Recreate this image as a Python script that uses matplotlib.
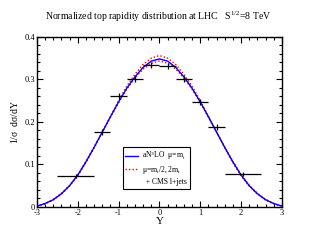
import matplotlib
matplotlib.use("Agg")
import matplotlib.pyplot as plt
from matplotlib.ticker import MultipleLocator, FormatStrFormatter
from matplotlib.lines import Line2D

plt.rcParams['font.family'] = ['Liberation Serif', 'DejaVu Serif']
plt.rcParams['mathtext.fontset'] = 'custom'
plt.rcParams['mathtext.rm'] = 'Liberation Serif'
plt.rcParams['mathtext.it'] = 'Liberation Serif'

# theory curve (aN3LO, mu = m_t)
y_grid = [-3.0, -2.8, -2.6, -2.4, -2.2, -2.0, -1.8, -1.6, -1.4, -1.2, -1.0, -0.8, -0.6, -0.4, -0.2,
          0.0, 0.2, 0.4, 0.6, 0.8, 1.0, 1.2, 1.4, 1.6, 1.8, 2.0, 2.2, 2.4, 2.6, 2.8, 3.0]
central = [0.002, 0.008, 0.017, 0.031, 0.050, 0.075, 0.106, 0.140, 0.176, 0.212, 0.247, 0.279, 0.306,
           0.328, 0.343, 0.348, 0.343, 0.328, 0.306, 0.279, 0.247, 0.212, 0.176, 0.140, 0.106, 0.075,
           0.050, 0.031, 0.017, 0.008, 0.002]
scale_hi = [0.002, 0.007, 0.016, 0.030, 0.049, 0.073, 0.104, 0.139, 0.176, 0.213, 0.250, 0.284, 0.312,
            0.335, 0.350, 0.356, 0.350, 0.335, 0.312, 0.284, 0.250, 0.213, 0.176, 0.139, 0.104, 0.073,
            0.049, 0.030, 0.016, 0.007, 0.002]
scale_lo = [0.002, 0.008, 0.018, 0.032, 0.051, 0.076, 0.107, 0.141, 0.176, 0.211, 0.245, 0.277, 0.303,
            0.324, 0.338, 0.343, 0.338, 0.324, 0.303, 0.277, 0.245, 0.211, 0.176, 0.141, 0.107, 0.076,
            0.051, 0.032, 0.018, 0.008, 0.002]

# CMS l+jets data
bin_lo = [-2.5, -1.6, -1.2, -0.8, -0.4, 0.0, 0.4, 0.8, 1.2, 1.6]
bin_hi = [-1.6, -1.2, -0.8, -0.4, 0.0, 0.4, 0.8, 1.2, 1.6, 2.5]
cms_val = [0.073, 0.176, 0.261, 0.301, 0.334, 0.332, 0.301, 0.247, 0.188, 0.077]
cms_err = [0.005, 0.007, 0.007, 0.007, 0.007, 0.007, 0.007, 0.007, 0.007, 0.005]

x_ticks = [-3, -2, -1, 0, 1, 2, 3]
y_ticks = [0, 0.1, 0.2, 0.3, 0.4]

fig = plt.figure(figsize=(3.16, 2.44), dpi=100)
ax = fig.add_axes([0.117, 0.152, 0.775, 0.697])

ax.plot(y_grid, central, color='blue', lw=1.0, zorder=3)
ax.plot(y_grid, scale_hi, color='red', lw=1.0, ls=(0, (1, 1.5)), zorder=2)
ax.plot(y_grid, scale_lo, color='red', lw=1.0, ls=(0, (1, 1.5)), zorder=2)

xc = [(a + b) / 2 for a, b in zip(bin_lo, bin_hi)]
xe = [(b - a) / 2 for a, b in zip(bin_lo, bin_hi)]
ax.errorbar(xc, cms_val, xerr=xe, yerr=cms_err, fmt='none', ecolor='black', elinewidth=0.9,
            capsize=0, zorder=4)

ax.set_xlim(-3, 3)
ax.set_ylim(0, 0.4)
ax.set_xticks(x_ticks)
ax.set_yticks(y_ticks)
ax.set_xticklabels([str(v) for v in x_ticks])
ax.set_yticklabels(['0', '0.1', '0.2', '0.3', '0.4'])
ax.xaxis.set_minor_locator(MultipleLocator(0.2))
ax.yaxis.set_minor_locator(MultipleLocator(0.02))
ax.tick_params(which='both', direction='in', top=True, right=True, labelsize=6, pad=1.5, width=0.8)
ax.tick_params(which='major', length=4.5)
ax.tick_params(which='minor', length=2.5)
for s in ax.spines.values():
    s.set_linewidth(1.0)

ax.set_xlabel('Y', fontsize=8, labelpad=0)
ax.set_ylabel(r'1/$\sigma$  d$\sigma$/dY', fontsize=7, labelpad=3)
fig.text(0.5, 0.93, r'Normalized top rapidity distribution at LHC   S$^{1/2}$=8 TeV',
         ha='center', va='center', fontsize=7)

handles = [Line2D([], [], color='blue', lw=1.0),
           Line2D([], [], color='red', lw=1.0, ls=(0, (1, 1.5))),
           Line2D([], [], color='none')]
labels = [r'aN$^3$LO  $\mu$=m$_t$', r'$\mu$=m$_t$/2, 2m$_t$', r'  + CMS l+jets']
leg = ax.legend(handles, labels, loc='upper left', bbox_to_anchor=(0.35, 0.355), fontsize=5.5,
                frameon=True, fancybox=False, edgecolor='black', framealpha=1,
                handlelength=1.6, handletextpad=0.6, labelspacing=0.25, borderpad=0.35,
                borderaxespad=0)
leg.get_frame().set_linewidth(0.8)

fig.savefig('out.png', dpi=100)
